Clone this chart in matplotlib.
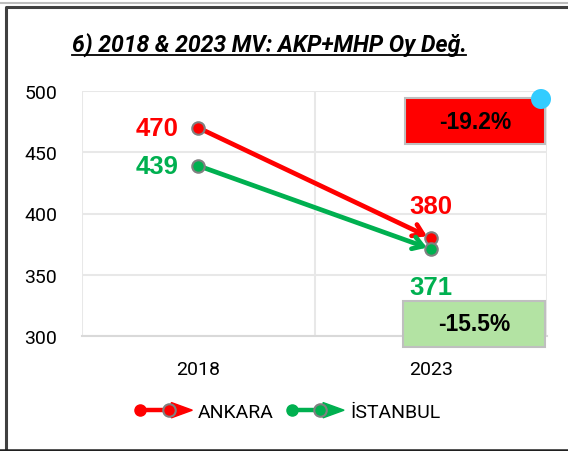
import matplotlib
matplotlib.use('Agg')
import matplotlib.pyplot as plt
from matplotlib.patches import Rectangle, Circle, Polygon
from matplotlib.lines import Line2D
from matplotlib.legend_handler import HandlerBase

# data
years = ['2018', '2023']
cities = ['ANKARA', 'İSTANBUL']
ankara = [470, 380]
istanbul = [439, 371]
changes = ['-19.2%', '-15.5%']
colors = ['#FF0000', '#00B050']
box_colors = ['#FF0000', '#B3E3A3']
title = '6) 2018 & 2023 MV: AKP+MHP Oy Değ.'

plt.rcParams['font.family'] = ['Roboto', 'DejaVu Sans']

fig = plt.figure(figsize=(5.68, 4.52), dpi=100)
ax = fig.add_axes([82 / 568, 1 - 337 / 452, 465 / 568, 245 / 452])

x = list(range(len(years)))
series = [ankara, istanbul]


class ArrowHandler(HandlerBase):
    # line with a dot at the start, marker in the middle and arrow head at the end
    def create_artists(self, legend, orig_handle, xdescent, ydescent, width, height, fontsize, trans):
        c = orig_handle.get_color()
        y0 = height / 2 - ydescent
        w = width
        line = Line2D([0, w * 0.7], [y0, y0], color=c, lw=3.2, transform=trans)
        dot = Line2D([0], [y0], marker='o', ms=8, color=c, mec=c, transform=trans)
        mid = Line2D([w * 0.55], [y0], marker='o', ms=9, color=c, mec='#808080', mew=1.5, transform=trans)
        head = Polygon([[w * 0.6, y0 + 5.5], [w, y0], [w * 0.6, y0 - 5.5]], closed=True,
                       fc=c, ec=c, transform=trans)
        return [line, head, dot, mid]


handles = []
for vals, col, name in zip(series, colors, cities):
    ax.annotate('', xy=(x[1], vals[1]), xytext=(x[0], vals[0]),
                arrowprops=dict(arrowstyle='->,head_length=0.7,head_width=0.45', color=col, lw=3.4,
                                shrinkA=0, shrinkB=3), zorder=3)
    ax.plot(x, vals, linestyle='none', marker='o', ms=9, color=col, mec='#808080', mew=1.5, zorder=4)
    handles.append(Line2D([], [], color=col, label=name))

# value labels
lbl = dict(fontsize=18.5, fontweight='bold', family='Liberation Sans')
ax.annotate(str(ankara[0]), (x[0], ankara[0]), xytext=(-14, 0), textcoords='offset points',
            ha='right', va='center', color=colors[0], **lbl)
ax.annotate(str(istanbul[0]), (x[0], istanbul[0]), xytext=(-14, 0), textcoords='offset points',
            ha='right', va='center', color=colors[1], **lbl)
ax.annotate(str(ankara[1]), (x[1], ankara[1]), xytext=(0, 23), textcoords='offset points',
            ha='center', va='center', color=colors[0], **lbl)
ax.annotate(str(istanbul[1]), (x[1], istanbul[1]), xytext=(0, -27), textcoords='offset points',
            ha='center', va='center', color=colors[1], **lbl)

# change boxes
box_pos = [(0.889, 456.7, 0.602, 37.6), (0.88, 291.0, 0.611, 37.6)]
for (bx, by, bw, bh), fc, txt in zip(box_pos, box_colors, changes):
    ax.add_patch(Rectangle((bx, by), bw, bh, fc=fc, ec='#BFBFBF', lw=1.5, clip_on=False, zorder=5))
    ax.text(bx + bw / 2, by + bh / 2, txt, ha='center', va='center', fontsize=16.5,
            fontweight='bold', family='Liberation Sans', color='black', zorder=6)

ax.set_xlim(-0.5, 1.5)
ax.set_ylim(300, 500)
ax.set_xticks(x)
ax.set_xticklabels(years)
ax.set_yticks([300, 350, 400, 450, 500])
ax.set_xticks([-0.5, 0.5, 1.5], minor=True)
ax.tick_params(axis='both', which='both', length=0, labelsize=14, colors='#000000')
ax.tick_params(axis='y', pad=18)
ax.tick_params(axis='x', pad=17)
ax.grid(axis='y', color='#E8E8E8', lw=1.5)
ax.grid(axis='x', which='minor', color='#E8E8E8', lw=1.5)
for s in ['top', 'right', 'left']:
    ax.spines[s].set_visible(False)
ax.spines['bottom'].set_color('#D9D9D9')
ax.spines['bottom'].set_linewidth(1.5)
ax.set_axisbelow(True)

leg = fig.legend(handles=handles, loc='center', bbox_to_anchor=(290 / 568, 1 - 413 / 452),
                 ncol=2, frameon=False, fontsize=14, handlelength=2.7, handletextpad=0.3,
                 columnspacing=0.9, handler_map={Line2D: ArrowHandler()})

t = fig.text(269 / 568, 1 - 45 / 452, title, ha='center', va='center', fontsize=16.6,
             fontweight='bold', style='italic')
# underline the title under its own extent
fig.canvas.draw()
bb = t.get_window_extent().transformed(fig.transFigure.inverted())
fig.add_artist(Line2D([bb.x0, bb.x1], [1 - 56 / 452] * 2, color='black', lw=1.3,
                      transform=fig.transFigure))

# outer frame
fig.add_artist(Line2D([0, 1], [1 - 3.5 / 452] * 2, color='#BDBDBD', lw=1.5, transform=fig.transFigure))
fig.add_artist(Line2D([6 / 568, 6 / 568, 1.0], [0.0, 1 - 8 / 452, 1 - 8 / 452], color='#404040',
                      lw=2.2, transform=fig.transFigure))
fig.add_artist(Line2D([0, 1], [1.5 / 452] * 2, color='#202020', lw=1.8, transform=fig.transFigure))

# selection handle dot
fig.add_artist(Circle((5.41, 4.52 - 1.0), 0.1, transform=fig.dpi_scale_trans,
                      fc='#33CCFF', ec='none'))

fig.savefig('out.png', dpi=100)
